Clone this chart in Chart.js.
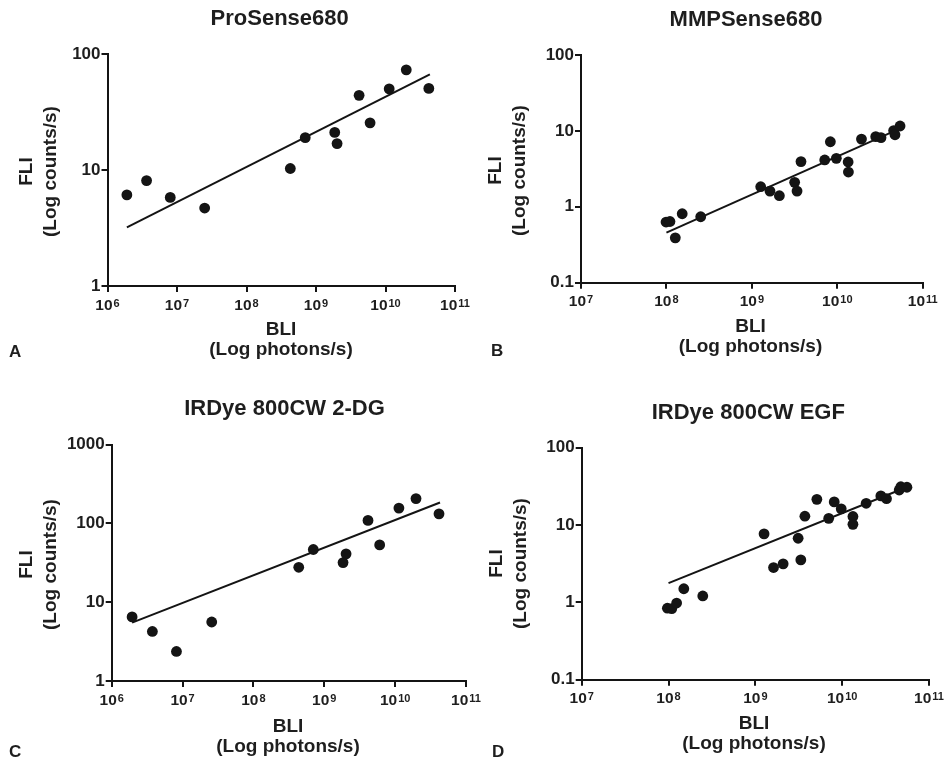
<!DOCTYPE html>
<html>
<head>
<meta charset="utf-8">
<script src="https://cdn.jsdelivr.net/npm/chart.js@4.4.1/dist/chart.umd.min.js"></script>
<style>
html,body{margin:0;padding:0;background:#fff;}
#wrap{position:relative;width:950px;height:762px;overflow:hidden;background:#fff;
  font-family:"Liberation Sans",Arial,Helvetica,sans-serif;font-weight:bold;color:#1e1e1e;}
canvas{position:absolute;}
.ttl{position:absolute;width:400px;text-align:center;white-space:nowrap;font-size:22px;line-height:22px;}
.xt{position:absolute;width:300px;text-align:center;white-space:nowrap;font-size:19px;line-height:20px;}
.yt{position:absolute;width:200px;height:47px;text-align:center;white-space:nowrap;font-size:19px;line-height:23.5px;transform:rotate(-90deg);}
.lt{position:absolute;font-size:17px;line-height:17px;white-space:nowrap;}
</style>
</head>
<body>
<div id="wrap">
  <canvas id="cA" width="475" height="381" style="left:0px;top:0px"></canvas>
  <canvas id="cB" width="475" height="381" style="left:475px;top:0px"></canvas>
  <canvas id="cC" width="490" height="381" style="left:0px;top:381px"></canvas>
  <canvas id="cD" width="475" height="381" style="left:475px;top:381px"></canvas>

  <div class="ttl" style="left:79.7px;top:7.4px">ProSense680</div>
  <div class="ttl" style="left:546px;top:8.1px">MMPSense680</div>
  <div class="ttl" style="left:84.5px;top:397.4px">IRDye 800CW 2-DG</div>
  <div class="ttl" style="left:548.3px;top:401.4px">IRDye 800CW EGF</div>

  <div class="xt" style="left:131px;top:319.4px">BLI<br>(Log photons/s)</div>
  <div class="xt" style="left:600.5px;top:316px">BLI<br>(Log photons/s)</div>
  <div class="xt" style="left:138px;top:715.8px">BLI<br>(Log photons/s)</div>
  <div class="xt" style="left:604px;top:713px">BLI<br>(Log photons/s)</div>

  <div class="yt" style="left:-62.8px;top:147.5px">FLI<br>(Log counts/s)</div>
  <div class="yt" style="left:406.2px;top:147.3px">FLI<br>(Log counts/s)</div>
  <div class="yt" style="left:-62.8px;top:540.8px">FLI<br>(Log counts/s)</div>
  <div class="yt" style="left:406.9px;top:540px">FLI<br>(Log counts/s)</div>

  <div class="lt" style="left:9px;top:342.6px">A</div>
  <div class="lt" style="left:491px;top:341.6px">B</div>
  <div class="lt" style="left:9px;top:742.6px">C</div>
  <div class="lt" style="left:492px;top:743.3px">D</div>
</div>
<script>
// ---------- data ----------
// Panel A: ProSense680
const aX = [1.9e6, 3.65e6, 8.0e6, 2.5e7, 4.27e8, 7.0e8, 1.86e9, 2.01e9, 4.17e9, 6.0e9, 1.13e10, 1.99e10, 4.2e10];
const aY = [6.1, 8.1, 5.8, 4.7, 10.3, 19.0, 21.1, 16.9, 44, 25.5, 50, 73, 50.5];
const aFitX = [1.9e6, 4.35e10];
const aFitY = [3.2, 66.7];

// Panel B: MMPSense680
const bX = [9.9e7, 1.10e8, 1.27e8, 1.53e8, 2.52e8, 1.27e9, 1.63e9, 2.10e9, 3.17e9, 3.38e9, 3.76e9,
            7.13e9, 8.3e9, 9.75e9, 1.34e10, 1.35e10, 1.92e10, 2.82e10, 3.25e10, 4.57e10, 4.74e10, 5.43e10];
const bY = [0.63, 0.64, 0.39, 0.81, 0.74, 1.84, 1.61, 1.40, 2.10, 1.61, 3.94,
            4.14, 7.2, 4.35, 3.89, 2.87, 7.8, 8.4, 8.15, 10.1, 8.9, 11.6];
const bFitX = [1.0e8, 5.4e10];
const bFitY = [0.457, 10.7];

// Panel C: IRDye 800CW 2-DG
const cX = [1.94e6, 3.75e6, 8.2e6, 2.58e7, 4.36e8, 7.0e8, 1.84e9, 2.03e9, 4.14e9, 6.05e9, 1.13e10, 1.97e10, 4.16e10];
const cY = [6.5, 4.25, 2.37, 5.6, 27.7, 46.6, 31.8, 41, 109, 53.3, 156, 206, 132];
const cFitX = [1.94e6, 4.3e10];
const cFitY = [5.5, 184];

// Panel D: IRDye 800CW EGF
const dX = [9.7e7, 1.09e8, 1.24e8, 1.50e8, 2.48e8, 1.26e9, 1.62e9, 2.09e9, 3.11e9, 3.34e9, 3.72e9, 5.11e9,
            7.0e9, 8.1e9, 9.75e9, 1.33e10, 1.33e10, 1.89e10, 2.79e10, 3.24e10, 4.54e10, 4.74e10, 5.57e10];
const dY = [0.84, 0.83, 0.98, 1.50, 1.21, 7.67, 2.82, 3.15, 6.75, 3.54, 13.0, 21.5,
            12.2, 19.9, 16.2, 12.9, 10.2, 19.1, 23.8, 21.9, 28.4, 31.3, 30.8];
const dFitX = [1.0e8, 5.6e10];
const dFitY = [1.77, 31];

// ticks
const xTicksAC = [1e6, 1e7, 1e8, 1e9, 1e10, 1e11];
const xExpAC = ['6', '7', '8', '9', '10', '11'];
const xTicksBD = [1e7, 1e8, 1e9, 1e10, 1e11];
const xExpBD = ['7', '8', '9', '10', '11'];
const yTicksA = [1, 10, 100];
const yLabelsA = ['1', '10', '100'];
const yTicksBD = [0.1, 1, 10, 100];
const yLabelsBD = ['0.1', '1', '10', '100'];
const yTicksC = [1, 10, 100, 1000];
const yLabelsC = ['1', '10', '100', '1000'];

// ---------- drawing ----------
const FONT = '"Liberation Sans", Arial, Helvetica, sans-serif';
const TXT = '#1e1e1e';
const INK = '#141414';

const xLabelPlugin = {
  id: 'xlab',
  afterDraw(chart, args, opts) {
    const s = chart.scales.x, ctx = chart.ctx;
    const base = chart.chartArea.bottom + 23.5;
    ctx.save();
    ctx.fillStyle = TXT;
    ctx.textBaseline = 'alphabetic';
    ctx.textAlign = 'left';
    opts.ticks.forEach((v, i) => {
      const px = s.getPixelForValue(v);
      const e = opts.exps[i];
      ctx.font = 'bold 15.5px ' + FONT;
      const w1 = ctx.measureText('10').width;
      ctx.font = 'bold 11px ' + FONT;
      const w2 = ctx.measureText(e).width;
      const x0 = px - (w1 + 1 + w2) / 2;
      ctx.font = 'bold 15.5px ' + FONT;
      ctx.fillText('10', x0, base);
      ctx.font = 'bold 11px ' + FONT;
      ctx.fillText(e, x0 + w1 + 1, base - 3);
    });
    ctx.restore();
  }
};

function makePanel(id, xs, ys, fx, fy, xMin, xMax, xTicks, xExps, yMin, yMax, yTicks, yLabels, geo) {
  const pts = xs.map((x, i) => ({x: x, y: ys[i]}));
  const fit = fx.map((x, i) => ({x: x, y: fy[i]}));
  new Chart(document.getElementById(id), {
    type: 'scatter',
    data: {
      datasets: [
        {data: pts, pointRadius: 5.4, pointHoverRadius: 5.4, backgroundColor: INK,
         borderColor: INK, borderWidth: 0, showLine: false},
        {data: fit, showLine: true, borderColor: INK, borderWidth: 2, pointRadius: 0,
         pointHoverRadius: 0, fill: false}
      ]
    },
    options: {
      responsive: false,
      animation: false,
      events: [],
      layout: {padding: {top: geo.padT, right: geo.padR, left: 0, bottom: 0}},
      plugins: {legend: {display: false}, tooltip: {enabled: false},
                xlab: {ticks: xTicks, exps: xExps}},
      scales: {
        x: {
          type: 'logarithmic', min: xMin, max: xMax,
          afterBuildTicks: ax => { ax.ticks = xTicks.map(v => ({value: v})); },
          afterFit: ax => { ax.height = geo.xH; },
          ticks: {display: false},
          grid: {drawOnChartArea: false, drawTicks: true, tickLength: 6, color: INK, lineWidth: 2},
          border: {display: true, color: INK, width: 2}
        },
        y: {
          type: 'logarithmic', min: yMin, max: yMax,
          afterBuildTicks: ax => { ax.ticks = yTicks.map(v => ({value: v})); },
          afterFit: ax => { ax.width = geo.yW; },
          ticks: {callback: (v, i) => yLabels[i], autoSkip: false, padding: 1, color: TXT,
                  font: {family: FONT, size: 17, weight: 'bold'}},
          grid: {drawOnChartArea: false, drawTicks: true, tickLength: 6, color: INK, lineWidth: 2},
          border: {display: true, color: INK, width: 2}
        }
      }
    },
    plugins: [xLabelPlugin]
  });
}

makePanel('cA', aX, aY, aFitX, aFitY, 1e6, 1e11, xTicksAC, xExpAC, 1, 100, yTicksA, yLabelsA,
          {yW: 107.5, padT: 54, padR: 20, xH: 95});
makePanel('cB', bX, bY, bFitX, bFitY, 1e7, 1e11, xTicksBD, xExpBD, 0.1, 100, yTicksBD, yLabelsBD,
          {yW: 106, padT: 55, padR: 27.3, xH: 98.3});
makePanel('cC', cX, cY, cFitX, cFitY, 1e6, 1e11, xTicksAC, xExpAC, 1, 1000, yTicksC, yLabelsC,
          {yW: 111.7, padT: 63.5, padR: 24, xH: 81});
makePanel('cD', dX, dY, dFitX, dFitY, 1e7, 1e11, xTicksBD, xExpBD, 0.1, 100, yTicksBD, yLabelsBD,
          {yW: 106.7, padT: 66.7, padR: 21, xH: 82.3});
</script>
</body>
</html>
